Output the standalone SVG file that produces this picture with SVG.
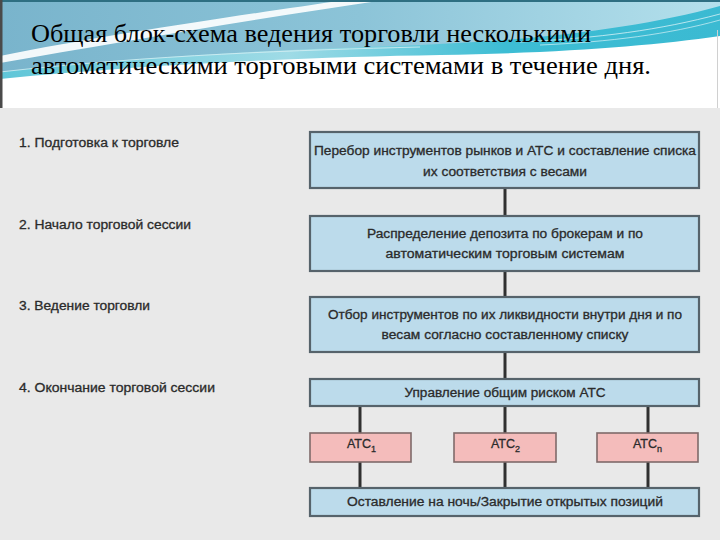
<svg xmlns="http://www.w3.org/2000/svg" width="720" height="540" viewBox="0 0 720 540">
<defs>
<linearGradient id="topGrad" x1="0" y1="0" x2="1" y2="0">
<stop offset="0" stop-color="#79b4cc"/>
<stop offset="0.5" stop-color="#8cc4d8"/>
<stop offset="1" stop-color="#b4e0ec"/>
</linearGradient>
<linearGradient id="cyanGrad" x1="0" y1="0" x2="1" y2="0">
<stop offset="0" stop-color="#5fc6d8"/>
<stop offset="0.4" stop-color="#9fdbe6"/>
<stop offset="0.7" stop-color="#3dbdd4"/>
<stop offset="1" stop-color="#3bbad2"/>
</linearGradient>
<style>
.title{font-family:"Liberation Serif","Times New Roman",serif;font-size:25px;fill:#000;}
.lbl{font-family:"Liberation Sans",Arial,sans-serif;font-size:12.5px;fill:#2b2b2b;stroke:#2b2b2b;stroke-width:0.3;}
.bt{font-family:"Liberation Sans",Arial,sans-serif;font-size:12.5px;fill:#2b2b2b;stroke:#2b2b2b;stroke-width:0.3;text-anchor:middle;}
.box{fill:#bcdbeb;stroke:#56636b;stroke-width:2.2;}
.atc{fill:#f4bcbb;stroke:#7f6a6a;stroke-width:1.6;}
.conn{stroke:#303030;stroke-width:3;fill:none;}
</style>
</defs>

<!-- header -->
<rect x="0" y="0" width="720" height="110" fill="#ffffff"/>
<path d="M0,0 H720 V30 C620,42 520,47 420,49 C300,52 150,57 0,76 Z" fill="url(#topGrad)"/>
<path d="M345,0 C250,14 110,34 0,56 L0,63 C120,42 260,18 385,0 Z" fill="#ffffff" opacity="0.9"/>
<path d="M720,6 C640,28 540,40 420,45 C300,49 150,55 0,72 L0,79 C160,63 320,57 440,55 C560,53 650,46 720,36 Z" fill="url(#cyanGrad)"/>
<path d="M720,14 C660,30 600,38 520,42" stroke="#ffffff" stroke-width="0.8" fill="none" opacity="0.8"/>
<path d="M720,20 C670,34 610,42 540,45" stroke="#ffffff" stroke-width="0.8" fill="none" opacity="0.7"/>
<path d="M0,72 C150,55 300,50 420,47" stroke="#d8f0f4" stroke-width="1" fill="none" opacity="0.8"/>
<rect x="0" y="0" width="720" height="2" fill="#2e6f82"/>
<rect x="0" y="0" width="2.5" height="108" fill="#4a4a4a"/>
<rect x="717" y="30" width="1" height="78" fill="#d0d0d0"/>

<text class="title" x="31" y="42" textLength="560" lengthAdjust="spacingAndGlyphs">Общая блок-схема ведения торговли несколькими</text>
<text class="title" x="31" y="74" textLength="620" lengthAdjust="spacingAndGlyphs">автоматическими торговыми системами в течение дня.</text>

<!-- body -->
<rect x="0" y="108" width="720" height="432" fill="#e9e9e9"/>

<g id="labels">
<text class="lbl" x="19" y="147" textLength="160" lengthAdjust="spacingAndGlyphs">1. Подготовка к торговле</text>
<text class="lbl" x="19" y="229" textLength="172" lengthAdjust="spacingAndGlyphs">2. Начало торговой сессии</text>
<text class="lbl" x="19" y="310" textLength="131" lengthAdjust="spacingAndGlyphs">3. Ведение торговли</text>
<text class="lbl" x="19" y="392" textLength="196" lengthAdjust="spacingAndGlyphs">4. Окончание торговой сессии</text>
</g>

<g id="connectors">
<line class="conn" x1="505" y1="188" x2="505" y2="216"/>
<line class="conn" x1="505" y1="271" x2="505" y2="297"/>
<line class="conn" x1="505" y1="352" x2="505" y2="379"/>
<line class="conn" x1="505" y1="406" x2="505" y2="433"/>
<line class="conn" x1="505" y1="462" x2="505" y2="488"/>
<line class="conn" x1="360" y1="406" x2="360" y2="433"/>
<line class="conn" x1="360" y1="462" x2="360" y2="488"/>
<line class="conn" x1="648" y1="406" x2="648" y2="433"/>
<line class="conn" x1="648" y1="462" x2="648" y2="488"/>
</g>

<g id="box1">
<rect class="box" x="310" y="132" width="389" height="56"/>
<text class="bt" x="505" y="155" textLength="382" lengthAdjust="spacingAndGlyphs">Перебор инструментов рынков и АТС и составление списка</text>
<text class="bt" x="505" y="176" textLength="164" lengthAdjust="spacingAndGlyphs">их соответствия с весами</text>
</g>
<g id="box2">
<rect class="box" x="310" y="216" width="389" height="55"/>
<text class="bt" x="505" y="238" textLength="276" lengthAdjust="spacingAndGlyphs">Распределение депозита по брокерам и по</text>
<text class="bt" x="505" y="258" textLength="239" lengthAdjust="spacingAndGlyphs">автоматическим торговым системам</text>
</g>
<g id="box3">
<rect class="box" x="310" y="297" width="389" height="55"/>
<text class="bt" x="505" y="319" textLength="354" lengthAdjust="spacingAndGlyphs">Отбор инструментов по их ликвидности внутри дня и по</text>
<text class="bt" x="505" y="339" textLength="247" lengthAdjust="spacingAndGlyphs">весам согласно составленному списку</text>
</g>
<g id="box4">
<rect class="box" x="310" y="379" width="389" height="27"/>
<text class="bt" x="505" y="397" textLength="201" lengthAdjust="spacingAndGlyphs">Управление общим риском АТС</text>
</g>
<g id="atc1">
<rect class="atc" x="310" y="433" width="101" height="29"/>
<text class="lbl" x="347" y="448">АТС<tspan font-size="9" dy="4">1</tspan></text>
</g>
<g id="atc2">
<rect class="atc" x="454" y="433" width="102" height="29"/>
<text class="lbl" x="491" y="448">АТС<tspan font-size="9" dy="4">2</tspan></text>
</g>
<g id="atcn">
<rect class="atc" x="597" y="433" width="101" height="29"/>
<text class="lbl" x="633" y="448">АТС<tspan font-size="9" dy="4">n</tspan></text>
</g>
<g id="box5">
<rect class="box" x="310" y="488" width="389" height="28"/>
<text class="bt" x="505" y="506" textLength="316" lengthAdjust="spacingAndGlyphs">Оставление на ночь/Закрытие открытых позиций</text>
</g>
</svg>
